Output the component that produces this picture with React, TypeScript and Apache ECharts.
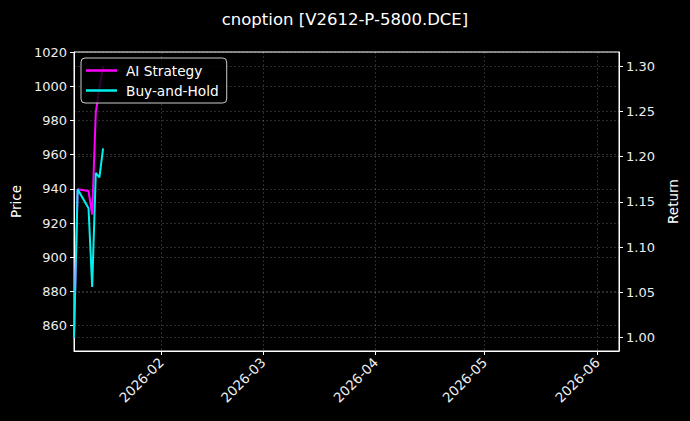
import { useEffect, useRef } from "react";
import * as echarts from "echarts";

const TITLE = "cnoption [V2612-P-5800.DCE]";
const SERIES_NAMES = ["AI Strategy", "Buy-and-Hold"];
const SERIES_COLORS = ["#ff00ff", "#00f0f0"];

const dates = [
  "2026-01-08",
  "2026-01-09",
  "2026-01-12",
  "2026-01-13",
  "2026-01-14",
  "2026-01-15",
  "2026-01-16",
];
const aiStrategy = [1.0, 1.164, 1.162, 1.136, 1.249, 1.275, 1.3];
const buyAndHold = [1.0, 1.164, 1.143, 1.056, 1.182, 1.177, 1.209];

const monthTicks = ["2026-02-01", "2026-03-01", "2026-04-01", "2026-05-01", "2026-06-01"];
const priceTicks = [860, 880, 900, 920, 940, 960, 980, 1000, 1020];
const returnTicks = [1.0, 1.05, 1.1, 1.15, 1.2, 1.25, 1.3];

const X_MIN = "2026-01-08";
const X_MAX = "2026-06-07";
const PRICE_RANGE = [845.2, 1020];
const RETURN_RANGE = [0.9853, 1.3155];

const FONT = "DejaVu Sans";

const toTime = (s: string) => {
  const [y, m, d] = s.split("-").map(Number);
  return new Date(y, m - 1, d).getTime();
};

const gridLine = {
  show: true,
  lineStyle: { color: "rgba(255,255,255,0.22)", width: 0.8, type: [2, 2] as any },
};

export default function App() {
  const chartRef = useRef<HTMLDivElement>(null);

  useEffect(() => {
    if (!chartRef.current) return;
    const chart = echarts.init(chartRef.current, undefined, { renderer: "svg" });

    const monthValues = monthTicks.map(toTime);

    const option: echarts.EChartsOption = {
      animation: false,
      backgroundColor: "#000",
      textStyle: { fontFamily: FONT },
      title: {
        text: TITLE,
        left: "center",
        top: 6,
        textStyle: { color: "#fff", fontSize: 16.5, fontWeight: "normal", fontFamily: FONT },
      },
      grid: {
        left: 74,
        right: 71,
        top: 52,
        bottom: 70,
        show: true,
        borderColor: "#fff",
        borderWidth: 1,
        backgroundColor: "transparent",
      },
      legend: {
        data: SERIES_NAMES,
        orient: "vertical",
        left: 81,
        top: 58,
        icon: "rect",
        itemWidth: 31,
        itemHeight: 2.5,
        itemGap: 5,
        padding: [5, 8, 5, 5],
        backgroundColor: "rgba(0,0,0,0.8)",
        borderColor: "#cccccc",
        borderWidth: 1,
        borderRadius: 4,
        textStyle: {
          color: "#fff",
          fontSize: 13.7,
          fontFamily: FONT,
          lineHeight: 15,
          padding: [0, 0, 0, 4],
        },
      },
      xAxis: {
        type: "value",
        min: toTime(X_MIN),
        max: toTime(X_MAX),
        axisLine: { show: true, onZero: false, lineStyle: { color: "#fff", width: 1 } },
        axisTick: {
          show: true,
          length: 4,
          lineStyle: { color: "#fff" },
          customValues: monthValues,
        } as any,
        axisLabel: {
          color: "#eee",
          fontSize: 13.5,
          fontFamily: FONT,
          rotate: 45,
          margin: 9,
          customValues: monthValues,
          formatter: (v: number) => {
            const d = new Date(v);
            return `${d.getFullYear()}-${String(d.getMonth() + 1).padStart(2, "0")}`;
          },
        } as any,
        splitLine: gridLine,
      },
      yAxis: [
        {
          type: "value",
          position: "left",
          name: "Price",
          nameLocation: "middle",
          nameGap: 50,
          nameTextStyle: { color: "#fff", fontSize: 13.5, fontFamily: FONT },
          min: PRICE_RANGE[0],
          max: PRICE_RANGE[1],
          axisLine: { show: true, lineStyle: { color: "#fff" } },
          axisTick: { show: true, length: 4, lineStyle: { color: "#fff" }, customValues: priceTicks } as any,
          axisLabel: {
            color: "#eee",
            fontSize: 13,
            fontFamily: FONT,
            margin: 7,
            customValues: priceTicks,
            formatter: (v: number) => String(v),
          } as any,
          splitLine: gridLine,
        },
        {
          type: "value",
          position: "right",
          name: "Return",
          nameLocation: "middle",
          nameGap: 47,
          nameTextStyle: { color: "#fff", fontSize: 13.5, fontFamily: FONT },
          min: RETURN_RANGE[0],
          max: RETURN_RANGE[1],
          axisLine: { show: true, lineStyle: { color: "#fff" } },
          axisTick: { show: true, length: 4, lineStyle: { color: "#fff" }, customValues: returnTicks } as any,
          axisLabel: {
            color: "#eee",
            fontSize: 13,
            fontFamily: FONT,
            margin: 7,
            customValues: returnTicks,
            formatter: (v: number) => v.toFixed(2),
          } as any,
          splitLine: gridLine,
        },
      ],
      series: [
        {
          name: SERIES_NAMES[0],
          type: "line",
          yAxisIndex: 1,
          data: dates.map((d, i) => [toTime(d), aiStrategy[i]]),
          showSymbol: false,
          lineStyle: { color: SERIES_COLORS[0], width: 2 },
          itemStyle: { color: SERIES_COLORS[0] },
        },
        {
          name: SERIES_NAMES[1],
          type: "line",
          yAxisIndex: 1,
          data: dates.map((d, i) => [toTime(d), buyAndHold[i]]),
          showSymbol: false,
          lineStyle: { color: SERIES_COLORS[1], width: 2 },
          itemStyle: { color: SERIES_COLORS[1] },
        },
      ],
    };

    chart.setOption(option);
    return () => chart.dispose();
  }, []);

  return (
    <div
      ref={chartRef}
      style={{ position: "fixed", left: 0, top: 0, width: 690, height: 421, background: "#000" }}
    />
  );
}
